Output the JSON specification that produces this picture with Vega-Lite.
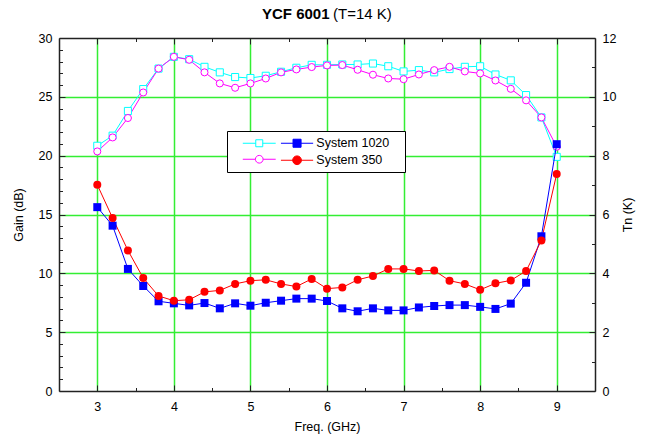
{
  "$schema": "https://vega.github.io/schema/vega-lite/v6.json",
  "width": 536,
  "height": 353,
  "autosize": {"type": "none"},
  "padding": {"left": 59, "top": 38, "right": 59, "bottom": 50},
  "config": {
    "font": "Liberation Sans",
    "view": {"stroke": null},
    "axis": {
      "labelFontSize": 12.5, "labelColor": "black", "labelFont": "Liberation Sans",
      "titleFontSize": 12.5, "titleFontWeight": "normal", "titleColor": "black", "titleFont": "Liberation Sans",
      "domainColor": "#222", "domainWidth": 1.5, "tickColor": "#222", "tickWidth": 1,
      "gridColor": "#33ee33", "gridWidth": 1.5
    }
  },
  "title": {
    "text": "YCF 6001\u00a0\u00a0\u00a0\u00a0\u00a0\u00a0\u00a0\u00a0\u00a0\u00a0\u00a0\u00a0\u00a0\u00a0\u00a0\u200b",
    "subtitle": "\u200b\u00a0\u00a0\u00a0\u00a0\u00a0\u00a0\u00a0\u00a0\u00a0\u00a0\u00a0\u00a0\u00a0\u00a0\u00a0\u00a0\u00a0(T=14 K)",
    "anchor": "middle",
    "font": "Liberation Sans", "fontSize": 15, "fontWeight": "bold", "color": "black",
    "subtitleFont": "Liberation Sans", "subtitleFontSize": 15, "subtitleFontWeight": "normal", "subtitleColor": "black",
    "subtitlePadding": -15,
    "offset": 10
  },
  "data": {"values": [
    {"f": 3.0, "s": "System 1020", "g": 20.84, "t": 6.25},
    {"f": 3.2, "s": "System 1020", "g": 21.7, "t": 5.62},
    {"f": 3.4, "s": "System 1020", "g": 23.8, "t": 4.15},
    {"f": 3.6, "s": "System 1020", "g": 25.66, "t": 3.57},
    {"f": 3.8, "s": "System 1020", "g": 27.4, "t": 3.05},
    {"f": 4.0, "s": "System 1020", "g": 28.4, "t": 2.98},
    {"f": 4.2, "s": "System 1020", "g": 28.2, "t": 2.91},
    {"f": 4.4, "s": "System 1020", "g": 27.55, "t": 2.99},
    {"f": 4.6, "s": "System 1020", "g": 27.08, "t": 2.81},
    {"f": 4.8, "s": "System 1020", "g": 26.68, "t": 2.98},
    {"f": 5.0, "s": "System 1020", "g": 26.6, "t": 2.9},
    {"f": 5.2, "s": "System 1020", "g": 26.79, "t": 3.0},
    {"f": 5.4, "s": "System 1020", "g": 27.13, "t": 3.07},
    {"f": 5.6, "s": "System 1020", "g": 27.47, "t": 3.14},
    {"f": 5.8, "s": "System 1020", "g": 27.72, "t": 3.14},
    {"f": 6.0, "s": "System 1020", "g": 27.72, "t": 3.06},
    {"f": 6.2, "s": "System 1020", "g": 27.75, "t": 2.81},
    {"f": 6.4, "s": "System 1020", "g": 27.75, "t": 2.71},
    {"f": 6.6, "s": "System 1020", "g": 27.83, "t": 2.81},
    {"f": 6.8, "s": "System 1020", "g": 27.6, "t": 2.74},
    {"f": 7.0, "s": "System 1020", "g": 27.16, "t": 2.74},
    {"f": 7.2, "s": "System 1020", "g": 27.27, "t": 2.84},
    {"f": 7.4, "s": "System 1020", "g": 27.08, "t": 2.89},
    {"f": 7.6, "s": "System 1020", "g": 27.36, "t": 2.92},
    {"f": 7.8, "s": "System 1020", "g": 27.55, "t": 2.92},
    {"f": 8.0, "s": "System 1020", "g": 27.6, "t": 2.86},
    {"f": 8.2, "s": "System 1020", "g": 26.9, "t": 2.79},
    {"f": 8.4, "s": "System 1020", "g": 26.4, "t": 2.97},
    {"f": 8.6, "s": "System 1020", "g": 25.15, "t": 3.68},
    {"f": 8.8, "s": "System 1020", "g": 23.25, "t": 5.26},
    {"f": 9.0, "s": "System 1020", "g": 19.9, "t": 8.39},
    {"f": 3.0, "s": "System 350", "g": 20.36, "t": 7.01},
    {"f": 3.2, "s": "System 350", "g": 21.55, "t": 5.88},
    {"f": 3.4, "s": "System 350", "g": 23.2, "t": 4.78},
    {"f": 3.6, "s": "System 350", "g": 25.37, "t": 3.84},
    {"f": 3.8, "s": "System 350", "g": 27.4, "t": 3.23},
    {"f": 4.0, "s": "System 350", "g": 28.4, "t": 3.07},
    {"f": 4.2, "s": "System 350", "g": 28.15, "t": 3.1},
    {"f": 4.4, "s": "System 350", "g": 27.08, "t": 3.37},
    {"f": 4.6, "s": "System 350", "g": 26.14, "t": 3.42},
    {"f": 4.8, "s": "System 350", "g": 25.77, "t": 3.64},
    {"f": 5.0, "s": "System 350", "g": 26.14, "t": 3.75},
    {"f": 5.2, "s": "System 350", "g": 26.56, "t": 3.78},
    {"f": 5.4, "s": "System 350", "g": 27.08, "t": 3.64},
    {"f": 5.6, "s": "System 350", "g": 27.33, "t": 3.55},
    {"f": 5.8, "s": "System 350", "g": 27.53, "t": 3.81},
    {"f": 6.0, "s": "System 350", "g": 27.67, "t": 3.48},
    {"f": 6.2, "s": "System 350", "g": 27.7, "t": 3.52},
    {"f": 6.4, "s": "System 350", "g": 27.3, "t": 3.78},
    {"f": 6.6, "s": "System 350", "g": 26.88, "t": 3.91},
    {"f": 6.8, "s": "System 350", "g": 26.56, "t": 4.15},
    {"f": 7.0, "s": "System 350", "g": 26.5, "t": 4.15},
    {"f": 7.2, "s": "System 350", "g": 26.9, "t": 4.08},
    {"f": 7.4, "s": "System 350", "g": 27.27, "t": 4.1},
    {"f": 7.6, "s": "System 350", "g": 27.55, "t": 3.75},
    {"f": 7.8, "s": "System 350", "g": 27.16, "t": 3.64},
    {"f": 8.0, "s": "System 350", "g": 26.99, "t": 3.44},
    {"f": 8.2, "s": "System 350", "g": 26.39, "t": 3.66},
    {"f": 8.4, "s": "System 350", "g": 25.68, "t": 3.76},
    {"f": 8.6, "s": "System 350", "g": 24.7, "t": 4.08},
    {"f": 8.8, "s": "System 350", "g": 23.25, "t": 5.12},
    {"f": 9.0, "s": "System 350", "g": 20.76, "t": 7.38}
  ]},
  "layer": [
    {
      "encoding": {
        "x": {
          "field": "f", "type": "quantitative",
          "scale": {"domain": [2.5, 9.5], "nice": false, "zero": false},
          "axis": {
            "orient": "bottom", "title": "Freq. (GHz)", "titlePadding": 8,
            "values": [3, 3.5, 4, 4.5, 5, 5.5, 6, 6.5, 7, 7.5, 8, 8.5, 9],
            "labelExpr": "datum.value % 1 === 0 ? '' + datum.value : ''",
            "tickSize": {"condition": {"test": "datum.value % 1 === 0", "value": -6}, "value": -3.5},
            "labelPadding": 15, "grid": true,
            "gridOpacity": {"condition": {"test": "datum.value % 1 === 0", "value": 1}, "value": 0}
          }
        },
        "y": {
          "field": "g", "type": "quantitative",
          "scale": {"domain": [0, 30], "nice": false},
          "axis": {
            "orient": "left", "title": "Gain (dB)", "titlePadding": 13,
            "values": [0,1,2,3,4,5,6,7,8,9,10,11,12,13,14,15,16,17,18,19,20,21,22,23,24,25,26,27,28,29,30],
            "labelExpr": "datum.value % 5 === 0 ? '' + datum.value : ''",
            "tickSize": {"condition": {"test": "datum.value % 5 === 0", "value": -6}, "value": -3.5},
            "labelPadding": 13, "grid": true,
            "gridOpacity": {"condition": {"test": "datum.value % 5 === 0 && datum.value > 0 && datum.value < 30", "value": 1}, "value": 0}
          }
        },
        "color": {
          "field": "s", "type": "nominal",
          "scale": {"domain": ["System 1020", "System 350"], "range": ["#00ffff", "#ff00ff"]},
          "legend": {
            "title": null, "orient": "none", "legendX": 168, "legendY": 93,
            "padding": 6, "strokeColor": "black", "fillColor": "white", "zindex": 1,
            "symbolSize": 49, "symbolOffset": 20, "labelOffset": 133.2,
            "labelFontSize": 12.5, "labelOpacity": 0, "rowPadding": 3,
            "labelExpr": "'\u00a0'",
            "encode": {
              "symbols": {"update": {
                "shape": {"signal": "datum.value === 'System 1020' ? 'M-4.7,0H-1M1,0H4.7M-1,-1H1V1H-1Z' : 'M-4.7,0H-1.1M1.1,0H4.7M-1.1,0A1.1,1.1,0,1,1,1.1,0A1.1,1.1,0,1,1,-1.1,0Z'"},
                "fill": {"value": "white"},
                "stroke": {"signal": "datum.value === 'System 1020' ? '#00ffff' : '#ff00ff'"},
                "strokeWidth": {"value": 1},
                "opacity": {"value": 1}
              }}
            }
          }
        }
      },
      "layer": [
        {"mark": {"type": "line", "strokeWidth": 1}},
        {
          "mark": {"type": "point", "filled": false, "fill": "white", "size": 50, "strokeWidth": 1, "opacity": 1},
          "encoding": {
            "shape": {"field": "s", "type": "nominal", "scale": {"domain": ["System 1020", "System 350"], "range": ["square", "circle"]}, "legend": null}
          }
        }
      ]
    },
    {
      "encoding": {
        "x": {
          "field": "f", "type": "quantitative",
          "scale": {"domain": [2.5, 9.5], "nice": false, "zero": false},
          "axis": {
            "orient": "top", "title": null, "labels": false, "grid": false,
            "values": [3, 3.5, 4, 4.5, 5, 5.5, 6, 6.5, 7, 7.5, 8, 8.5, 9],
            "tickSize": {"condition": {"test": "datum.value % 1 === 0", "value": -6}, "value": -3.5}
          }
        },
        "y": {
          "field": "t", "type": "quantitative",
          "scale": {"domain": [0, 12], "nice": false},
          "axis": {
            "orient": "right", "title": "Tn (K)", "titleAngle": -90, "titlePadding": 19,
            "values": [0,1,2,3,4,5,6,7,8,9,10,11,12],
            "labelExpr": "datum.value % 2 === 0 ? '' + datum.value : ''",
            "tickSize": {"condition": {"test": "datum.value % 2 === 0", "value": -6}, "value": -3.5},
            "labelPadding": 13, "grid": false
          }
        },
        "color": {
          "field": "s", "type": "nominal",
          "scale": {"domain": ["System 1020", "System 350"], "range": ["#0000ff", "#ff0000"]},
          "legend": {
            "title": null, "orient": "none", "legendX": 212.8, "legendY": 93,
            "padding": 6, "zindex": 2,
            "symbolSize": 49, "symbolOffset": 13, "labelOffset": 13,
            "labelFontSize": 12.5, "labelColor": "black", "rowPadding": 3,
            "encode": {
              "symbols": {"update": {
                "shape": {"signal": "datum.value === 'System 1020' ? 'M-4.6,0H4.6M-1.15,-1.15H1.15V1.15H-1.15Z' : 'M-4.6,0H4.6M-1.25,0A1.25,1.25,0,1,1,1.25,0A1.25,1.25,0,1,1,-1.25,0Z'"},
                "fill": {"signal": "datum.value === 'System 1020' ? '#0000ff' : '#ff0000'"},
                "stroke": {"signal": "datum.value === 'System 1020' ? '#0000ff' : '#ff0000'"},
                "strokeWidth": {"value": 1},
                "opacity": {"value": 1}
              }}
            }
          }
        }
      },
      "layer": [
        {"mark": {"type": "line", "strokeWidth": 1}},
        {
          "mark": {"type": "point", "filled": true, "size": 64, "opacity": 1},
          "encoding": {
            "shape": {"field": "s", "type": "nominal", "scale": {"domain": ["System 1020", "System 350"], "range": ["square", "circle"]}, "legend": null}
          }
        }
      ]
    }
  ],
  "resolve": {
    "scale": {"y": "independent", "color": "independent"},
    "axis": {"x": "independent", "y": "independent"},
    "legend": {"color": "independent"}
  }
}
